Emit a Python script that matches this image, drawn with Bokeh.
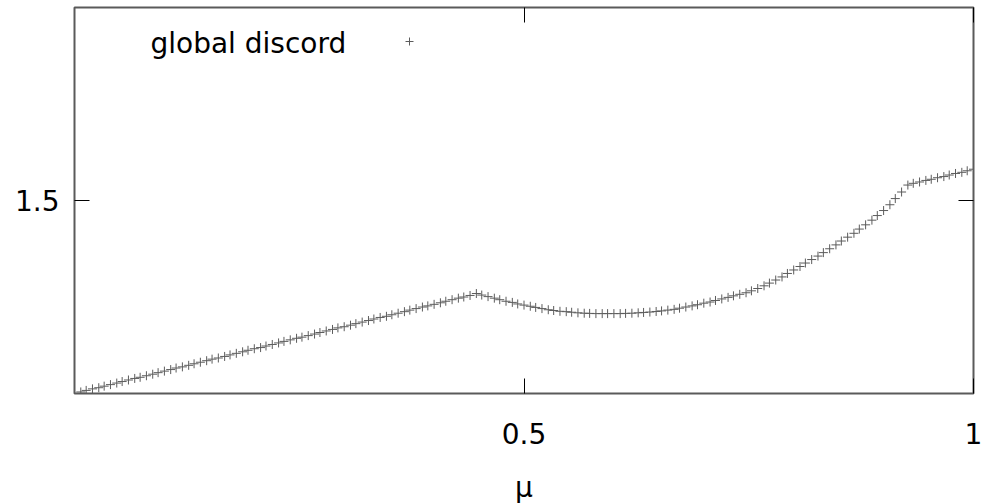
from bokeh.plotting import figure
from bokeh.models import (Range1d, FixedTicker, LinearAxis, Label, Legend, LegendItem)
from bokeh.embed import file_html
from bokeh.resources import INLINE

mu = [
    0.000, 0.007, 0.013, 0.020, 0.027, 0.033, 0.040, 0.047, 0.053, 0.060, 0.067, 0.073, 0.080, 0.087, 0.093,
    0.100, 0.107, 0.113, 0.120, 0.127, 0.133, 0.140, 0.147, 0.153, 0.160, 0.167, 0.173, 0.180, 0.187, 0.193,
    0.200, 0.207, 0.213, 0.220, 0.227, 0.233, 0.240, 0.247, 0.253, 0.260, 0.267, 0.273, 0.280, 0.287, 0.293,
    0.300, 0.307, 0.313, 0.320, 0.327, 0.333, 0.340, 0.347, 0.353, 0.360, 0.367, 0.373, 0.380, 0.387, 0.393,
    0.400, 0.407, 0.413, 0.420, 0.427, 0.433, 0.440, 0.447, 0.453, 0.460, 0.467, 0.473, 0.480, 0.487, 0.493,
    0.500, 0.507, 0.513, 0.520, 0.527, 0.533, 0.540, 0.547, 0.553, 0.560, 0.567, 0.573, 0.580, 0.587, 0.593,
    0.600, 0.607, 0.613, 0.620, 0.627, 0.633, 0.640, 0.647, 0.653, 0.660, 0.667, 0.673, 0.680, 0.687, 0.693,
    0.700, 0.707, 0.713, 0.720, 0.727, 0.733, 0.740, 0.747, 0.753, 0.760, 0.767, 0.773, 0.780, 0.787, 0.793,
    0.800, 0.807, 0.813, 0.820, 0.827, 0.833, 0.840, 0.847, 0.853, 0.860, 0.867, 0.873, 0.880, 0.887, 0.893,
    0.900, 0.907, 0.913, 0.920, 0.927, 0.933, 0.940, 0.947, 0.953, 0.960, 0.967, 0.973, 0.980, 0.987, 0.993,
    1.000,
]

global_discord = [
    1.000, 1.004, 1.008, 1.012, 1.015, 1.019, 1.023, 1.027, 1.031, 1.035, 1.039, 1.042, 1.046, 1.050, 1.054,
    1.058, 1.062, 1.066, 1.069, 1.073, 1.077, 1.081, 1.085, 1.089, 1.092, 1.096, 1.100, 1.104, 1.108, 1.112,
    1.116, 1.119, 1.123, 1.127, 1.131, 1.135, 1.139, 1.143, 1.146, 1.150, 1.154, 1.158, 1.162, 1.166, 1.170,
    1.173, 1.177, 1.181, 1.185, 1.189, 1.193, 1.197, 1.200, 1.204, 1.208, 1.212, 1.216, 1.220, 1.224, 1.227,
    1.231, 1.235, 1.239, 1.243, 1.247, 1.250, 1.254, 1.259, 1.255, 1.251, 1.247, 1.243, 1.239, 1.236, 1.232,
    1.229, 1.226, 1.223, 1.220, 1.217, 1.215, 1.213, 1.212, 1.2105, 1.209, 1.208, 1.2075, 1.207, 1.207, 1.207,
    1.207, 1.207, 1.2075, 1.208, 1.209, 1.210, 1.211, 1.2125, 1.214, 1.216, 1.218, 1.221, 1.224, 1.227, 1.230,
    1.234, 1.237, 1.241, 1.245, 1.249, 1.253, 1.257, 1.261, 1.266, 1.272, 1.279, 1.286, 1.294, 1.302, 1.311,
    1.320, 1.329, 1.338, 1.347, 1.356, 1.365, 1.375, 1.385, 1.395, 1.405, 1.415, 1.426, 1.437, 1.449, 1.461,
    1.474, 1.489, 1.505, 1.522, 1.540, 1.5445, 1.548, 1.552, 1.555, 1.559, 1.562, 1.566, 1.570, 1.573, 1.577,
    1.581,
]

x_ticks = [0.5, 1.0]
y_ticks = [1.5]
x_label = "μ"
series_label = "global discord"

FONT = "DejaVu Sans"
FS = "28px"

p = figure(frame_width=899, frame_height=386, output_backend="svg", toolbar_location=None,
           x_range=Range1d(0, 1), y_range=Range1d(1.0, 2.0),
           min_border_left=74, min_border_right=11, min_border_top=7, min_border_bottom=0,
           background_fill_color="white", border_fill_color="white")
p.grid.visible = False
p.outline_line_color = "#5a5a5a"
p.outline_line_width = 2

xa = p.xaxis[0]
xa.ticker = FixedTicker(ticks=x_ticks)
ya = p.yaxis[0]
ya.ticker = FixedTicker(ticks=y_ticks)
for ax in (xa, ya):
    ax.axis_line_color = None
    ax.major_tick_in = 15
    ax.major_tick_out = 0
    ax.minor_tick_in = 0
    ax.minor_tick_out = 0
    ax.major_tick_line_color = "black"
    ax.major_label_text_font = FONT
    ax.major_label_text_font_size = FS
    ax.major_label_text_color = "black"
xa.major_label_standoff = 29
xa.major_label_overrides = {0.5: "0.5", 1.0: "1"}
ya.major_label_standoff = 15
ya.major_label_overrides = {1.5: "1.5"}
xa.axis_label = x_label
xa.axis_label_text_font = FONT
xa.axis_label_text_font_size = FS
xa.axis_label_text_font_style = "normal"
xa.axis_label_text_color = "black"
xa.axis_label_standoff = 24

# mirrored ticks (top / right), labels not drawn
for loc, ticks in (("above", x_ticks), ("right", y_ticks)):
    ax = LinearAxis(ticker=FixedTicker(ticks=ticks))
    ax.axis_line_color = None
    ax.major_tick_in = 15
    ax.major_tick_out = 0
    ax.minor_tick_in = 0
    ax.minor_tick_out = 0
    ax.major_tick_line_color = "black"
    ax.major_label_text_font_size = "1px"
    ax.major_label_text_color = None
    ax.major_label_standoff = 0
    p.add_layout(ax, loc)

r = p.scatter(mu, global_discord, marker="cross", size=9, line_color="#5c5c5c", line_width=1)

legend = Legend(items=[LegendItem(label=" ", renderers=[r])], location=(325, 342),
                border_line_color=None, background_fill_alpha=0, padding=0, margin=0,
                glyph_width=20, glyph_height=20, label_width=0, label_standoff=0,
                label_text_font_size="6px", label_text_color=None)
p.add_layout(legend, "center")

p.add_layout(Label(x=0.0845, y=1.907, text=series_label, text_font=FONT, text_font_size=FS,
                   text_color="black", text_baseline="middle", text_align="left"))

open("out.html", "w").write(file_html(p, INLINE))
